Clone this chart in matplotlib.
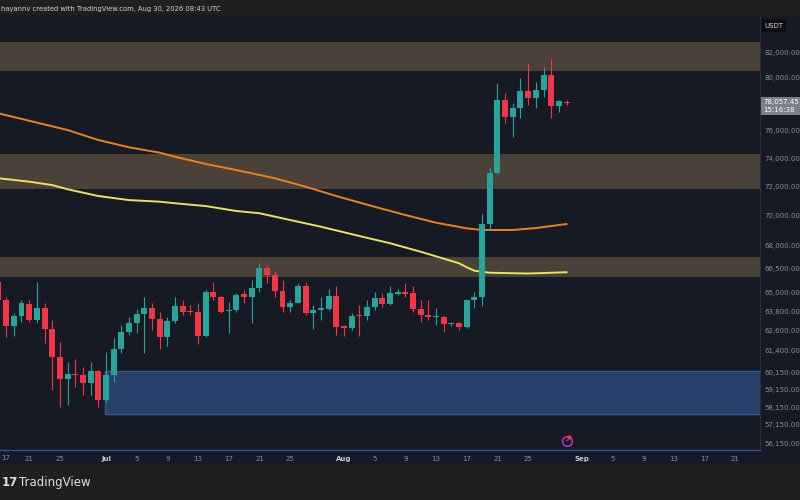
import numpy as np
import pandas as pd
import matplotlib
matplotlib.use("Agg")
import matplotlib.pyplot as plt
import matplotlib.dates as mdates
from matplotlib.patches import Rectangle

# daily candles, Jun 17 -> Aug 30
opens = [65660, 64500, 62900, 63510, 64250, 63270, 63990, 62700, 61050, 59730, 60050, 59980, 59500, 60220,
         58550, 59990, 61530, 62550, 63100, 63610, 64030, 63310, 62250, 63200, 64130, 63800, 63760, 62290,
         65030, 64710, 63800, 63880, 64860, 64710, 65240, 66530, 66090, 65090, 64080, 64340, 65390, 63720,
         63900, 63930, 64760,
         62820, 62790, 63530, 63480, 64050, 64610, 64250, 64900, 64940, 64920, 63930, 63570, 63430, 63470,
         62990, 63060, 62820, 64500, 64710, 69430, 72970, 78300, 77040, 77670, 78990, 78480, 79060, 80220,
         77860, 78150]
highs = [65900, 64710, 63680, 64500, 64500, 65660, 64300, 63270, 61950, 60760, 60900, 60470, 60760, 60280,
         61350, 62150, 62960, 63470, 63930, 64710, 64300, 63780, 63470, 64710, 64500, 64190, 64340, 65130,
         65660, 64770, 64400, 64920, 65130, 65770, 66860, 66750, 66310, 65770, 64500, 65550, 65660, 64190,
         64710, 65180, 65360,
         62960, 63720, 64190, 64500, 65030, 64970, 65390, 65180, 65550, 65390, 64500, 64500, 63990, 63510,
         63160, 63160, 64550, 65030, 70120, 73280, 79560, 78800, 78050, 79960, 81180, 79700, 80860, 81450,
         78300, 78300]
lows = [64400, 62250, 62290, 63160, 63160, 63060, 61850, 59120, 58160, 58260, 59310, 58830, 58830, 58160,
        58450, 59580, 61260, 62350, 62450, 61260, 62660, 61500, 61700, 63060, 63570, 63570, 61810, 62250,
        64500, 63680, 62490, 63780, 64300, 63060, 65030, 65570, 64710, 63780, 63780, 64300, 63570, 62700,
        63270, 63880, 62350,
        62290, 62660, 62290, 63270, 63880, 64080, 64190, 64820, 64710, 63780, 63160, 63270, 62960, 62550,
        62900, 62660, 62760, 63990, 64130, 69030, 72880, 76550, 75560, 76920, 77920, 77670, 78550, 76920,
        77420, 77900]
closes = [64500, 62900, 63510, 64300, 63270, 63990, 62700, 61050, 59730, 60040, 59980, 59500, 60220, 58550,
          59990, 61530, 62550, 63100, 63610, 64030, 63310, 62250, 63200, 64130, 63780, 63760, 62290, 65030,
          64710, 63780, 63870, 64820, 64710, 65240, 66530, 66090, 65090, 64080, 64340, 65390, 63720, 63880,
          63930, 64760, 62820,
          62790, 63510, 63480, 64050, 64610, 64250, 64920, 64940, 64900, 63930, 63570, 63420, 63470, 63010,
          63060, 62820, 64500, 64710, 69430, 72970, 78300, 77040, 77670, 78990, 78480, 79060, 80220, 77860,
          78200, 78057.45]
dates = pd.date_range("2026-06-17", periods=len(closes), freq="D")

# moving averages
ema_dates = ["2026-06-15", "2026-06-17", "2026-06-21", "2026-06-26", "2026-06-30", "2026-07-04", "2026-07-08",
             "2026-07-10", "2026-07-14", "2026-07-18", "2026-07-23", "2026-07-27", "2026-07-31", "2026-08-05",
             "2026-08-09", "2026-08-13", "2026-08-17", "2026-08-19", "2026-08-23", "2026-08-26", "2026-08-30"]
ema_vals = [77600, 77293, 76740, 76050, 75320, 74790, 74400, 74110, 73590, 73160, 72580, 71990, 71340, 70600,
            70040, 69520, 69140, 69030, 69030, 69160, 69430]
sma_dates = ["2026-06-15", "2026-06-17", "2026-06-21", "2026-06-24", "2026-06-26", "2026-06-30", "2026-07-04",
             "2026-07-08", "2026-07-10", "2026-07-14", "2026-07-18", "2026-07-21", "2026-07-25", "2026-07-29",
             "2026-08-03", "2026-08-07", "2026-08-11", "2026-08-16", "2026-08-17", "2026-08-18", "2026-08-20",
             "2026-08-25", "2026-08-30"]
sma_vals = [72750, 72580, 72340, 72100, 71810, 71340, 71060, 70950, 70840, 70650, 70310, 70160, 69700, 69250,
            68630, 68150, 67590, 66840, 66580, 66360, 66230, 66180, 66260]

# zones
supply_zones = [(80530, 82850), (71810, 74300), (65975, 67230)]
demand_zone = (57740, 60235)
demand_start = "2026-07-01"

price_ticks = [82000, 80000, 76000, 74000, 72000, 70000, 68000, 66500, 65000, 63800, 62600, 61400,
               60150, 59150, 58150, 57150, 56150]
last_price = 78057.45
countdown = "15:16:38"

BG = "#161a25"
BAR = "#1f1f1f"
TXT = "#8b8f9a"
UP = "#26a69a"
DOWN = "#f23645"

fig = plt.figure(figsize=(8, 5), dpi=100)
fig.patch.set_facecolor(BG)
fig.add_artist(Rectangle((0, 0.97), 1, 0.03, transform=fig.transFigure, color=BAR, zorder=0))
fig.add_artist(Rectangle((0, 0), 1, 0.07, transform=fig.transFigure, color=BAR, zorder=0))

ax = fig.add_axes([0, 0.1, 0.95, 0.87])
ax.set_facecolor(BG)
ax.set_yscale("log")

x = mdates.date2num(dates)
o = np.array(opens, float)
c = np.array(closes, float)
h = np.array(highs, float)
l = np.array(lows, float)
up = c >= o
cols = np.where(up, UP, DOWN)

for lo, hi in supply_zones:
    ax.axhspan(lo, hi, color="#4a4238", zorder=1, lw=0)
x0 = mdates.date2num(pd.Timestamp(demand_start)) - 0.1
ax.add_patch(Rectangle((x0, demand_zone[0]), 200, demand_zone[1] - demand_zone[0],
                       facecolor="#28416a", edgecolor="#36588e", lw=1, zorder=1))

ax.plot(mdates.date2num(pd.to_datetime(ema_dates)), ema_vals, color="#f07f16", lw=1.4, zorder=2)
ax.plot(mdates.date2num(pd.to_datetime(sma_dates)), sma_vals, color="#ece35c", lw=1.4, zorder=2)

ax.vlines(x, l, h, colors=cols, lw=0.8, zorder=3)
body = np.maximum(np.abs(c - o), c * 0.0013)
ax.bar(x, body, bottom=np.minimum(o, c), width=0.78, color=cols, zorder=4, lw=0)

xl = mdates.date2num(pd.Timestamp("2026-06-17")) + 0.2
ax.set_xlim(xl, xl + 99.0)
ax.set_ylim(55777, 85018)

# y axis on the right
ax.yaxis.tick_right()
ax.set_yticks(price_ticks)
ax.set_yticklabels([f"{v:,.2f}" for v in price_ticks])
ax.yaxis.set_minor_locator(matplotlib.ticker.NullLocator())
ax.tick_params(axis="y", length=0, pad=3, labelsize=5, labelcolor=TXT)

# x axis
tick_days = ["2026-06-21", "2026-06-25", "2026-07-01", "2026-07-05", "2026-07-09", "2026-07-13", "2026-07-17",
             "2026-07-21", "2026-07-25", "2026-08-01", "2026-08-05", "2026-08-09", "2026-08-13", "2026-08-17",
             "2026-08-21", "2026-08-25", "2026-09-01", "2026-09-05", "2026-09-09", "2026-09-13", "2026-09-17",
             "2026-09-21"]
tick_dt = pd.to_datetime(tick_days)
ax.set_xticks(mdates.date2num(tick_dt))
ax.set_xticklabels([d.strftime("%b") if d.day == 1 else str(d.day) for d in tick_dt])
ax.tick_params(axis="x", length=0, pad=4, labelsize=5, labelcolor=TXT)
for lab, d in zip(ax.get_xticklabels(), tick_dt):
    if d.day == 1:
        lab.set_color("#c9ccd3")
        lab.set_fontweight("bold")
# first date label sits at the very left edge
ax.text(0.001, -0.0177, "17", transform=ax.transAxes,
        ha="left", va="center", fontsize=5, color=TXT, clip_on=False)

for s in ["top", "left"]:
    ax.spines[s].set_visible(False)
ax.spines["right"].set_color("#2a2e39")
ax.spines["right"].set_linewidth(0.8)
ax.spines["bottom"].set_color("#2f4f9a")
ax.spines["bottom"].set_linewidth(1.0)

# last price label
ax.text(1.004, last_price / 1.003, f"{last_price:,.2f}\n{countdown}", transform=ax.get_yaxis_transform(),
        ha="left", va="center", fontsize=5, color="white", linespacing=1.3, clip_on=False,
        bbox=dict(boxstyle="square,pad=0.35", facecolor="#7d808a", edgecolor="none"))

# events icon
ev_x = mdates.date2num(pd.Timestamp("2026-08-30"))
ax.plot(ev_x, 56266, "o", ms=7, mfc="none", mec="#c23ad0", mew=1, zorder=5, clip_on=False)
ax.text(ev_x, 56266, "\u26a1", ha="center", va="center", fontsize=4.5, color="#c23ad0", zorder=5)
ax.plot(ev_x + 0.35, 56266 * 1.0035, "o", ms=2.2, color="#f23645", zorder=6)

# header / footer / currency
fig.text(0.001, 0.982, "hayannv created with TradingView.com, Aug 30, 2026 08:43 UTC", fontsize=4.9,
         color="#d1d4dc", ha="left", va="center")
fig.text(0.955, 0.949, "USDT", fontsize=5, color="#d1d4dc", ha="left", va="center",
         bbox=dict(boxstyle="square,pad=0.5", facecolor="#0c0d10", edgecolor="none"))
fig.text(0.002, 0.035, "17", fontsize=8.5, color="#e0e0e0", fontweight="heavy", ha="left", va="center")
fig.text(0.024, 0.035, "TradingView", fontsize=8.5, color="#e0e0e0", ha="left", va="center")

fig.savefig("out.png", dpi=100, facecolor=fig.get_facecolor())
